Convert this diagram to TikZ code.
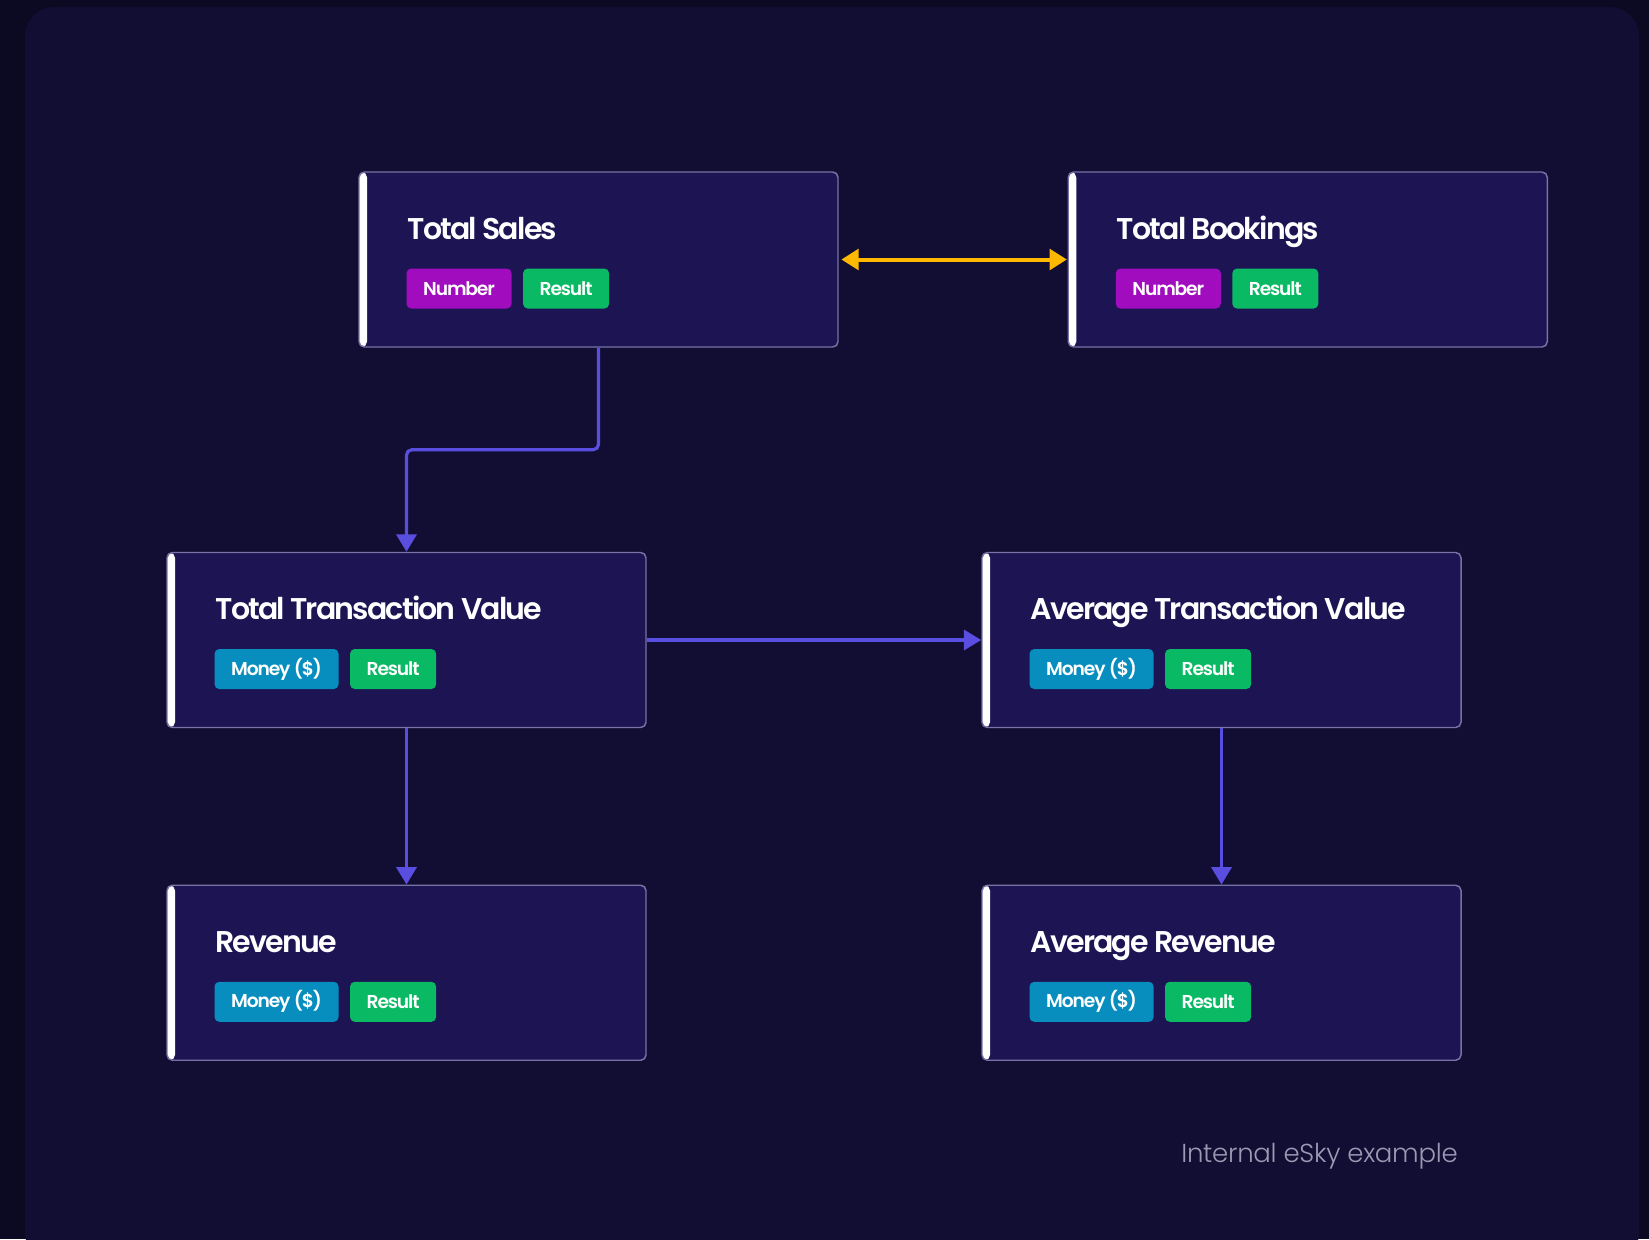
\documentclass[tikz,border=0pt]{standalone}
\usepackage{fontspec}
\setmainfont{Poppins}
\newfontfamily\titlefont{Poppins SemiBold}[LetterSpace=-6]
\newfontfamily\tagfont{Poppins SemiBold}[LetterSpace=-6]
\newfontfamily\footfont{Poppins Light}[LetterSpace=-1]
\usetikzlibrary{arrows.meta,calc}

\definecolor{outerbg}{HTML}{0C0A22}
\definecolor{panelbg}{HTML}{120E33}
\definecolor{boxfill}{HTML}{1C1453}
\definecolor{boxline}{HTML}{7873A5}
\definecolor{flowcol}{HTML}{5A4EE0}
\definecolor{linkcol}{HTML}{FFB800}
\definecolor{numcol}{HTML}{A00CBE}
\definecolor{rescol}{HTML}{0AB964}
\definecolor{moncol}{HTML}{088EBE}
\definecolor{footcol}{HTML}{9C99B4}

\tikzset{
  metricbox/.style={draw=boxline, line width=1.1pt, fill=boxfill,
    rounded corners=4pt, minimum width=359.25pt, minimum height=131.25pt,
    inner sep=0pt,
    path picture={\fill[white] (path picture bounding box.north west)
      rectangle ([xshift=6pt]path picture bounding box.south west);}},
  metrictitle/.style={anchor=base west, inner sep=0pt, text=white,
    font=\titlefont\fontsize{22.5}{22.5}\selectfont},
  badge/.style={rounded corners=3.5pt, minimum height=30pt, inner sep=0pt,
    text=white, font=\tagfont\fontsize{14}{14}\selectfont},
  flow/.style={draw=flowcol, line width=2.4pt, rounded corners=4pt,
    -{Triangle[length=13pt,width=15pt]}},
  link/.style={draw=linkcol, line width=3pt,
    {Triangle[length=13pt,width=15.5pt]}-{Triangle[length=13pt,width=15.5pt]}}
}

% one metric card: name, centre, title, first badge text, colour, width (px)
\newcommand\metriccard[7]{%
  \node[metricbox] (#1) at (#2) {};
  \node[metrictitle] (#1-title) at ($(#1.north west)+(49,68)$) {#3};
  \node[badge, fill=#5, minimum width=#6*0.75pt, anchor=north west]
    (#1-kind) at ($(#1.north west)+(48,97)$) {#4};
  \node[badge, fill=rescol, minimum width=64.5pt, anchor=west]
    (#1-res) at ($(#1-kind.east)+(11,0)$) {Result};
}

\begin{document}
\begin{tikzpicture}[x=0.75pt,y=-0.75pt]
  \fill[outerbg] (0,0) rectangle (1649,1239);
  \useasboundingbox (0,0) rectangle (1649,1239);
  \fill[panelbg, rounded corners=22pt] (25,7) rectangle (1639,1262);

  \metriccard{ts}{598.5,259.5}{Total Sales}{Number}{numcol}{105}{}
  \metriccard{tb}{1307.75,259.5}{Total Bookings}{Number}{numcol}{105}{}
  \metriccard{ttv}{406.5,640}{Total Transaction Value}{Money (\$)}{moncol}{124}{}
  \metriccard{atv}{1221.5,640}{Average Transaction Value}{Money (\$)}{moncol}{124}{}
  \metriccard{rev}{406.5,972.75}{Revenue}{Money (\$)}{moncol}{124}{}
  \metriccard{avr}{1221.5,972.75}{Average Revenue}{Money (\$)}{moncol}{124}{}

  \draw[link, shorten <=2pt, shorten >=0.5pt] (ts.east) -- (tb.west);
  \draw[flow] (ts.south) -- ($(ts.south)+(0,102)$) -| (ttv.north);
  \draw[flow] (ttv.east) -- (atv.west);
  \draw[flow] (ttv.south) -- (rev.north);
  \draw[flow] (atv.south) -- (avr.north);

  \node[anchor=base west, inner sep=0pt, text=footcol,
    font=\footfont\fontsize{19.5}{19.5}\selectfont] (foot) at (1181,1162)
    {Internal eSky example};
\end{tikzpicture}
\end{document}
